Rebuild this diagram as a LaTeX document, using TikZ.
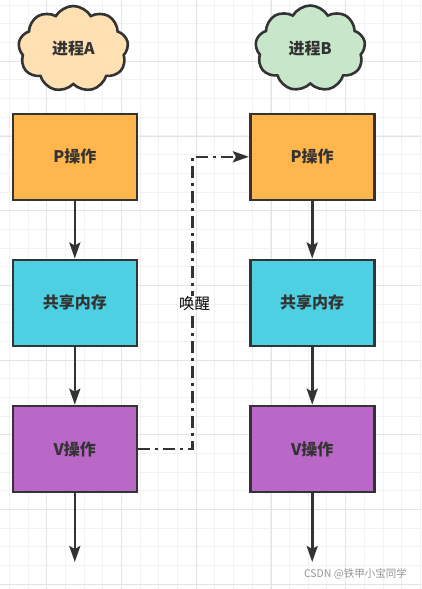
\documentclass[tikz,border=0pt]{standalone}
\usepackage{fontspec}
\setmainfont{Noto Sans CJK SC}
\usetikzlibrary{shapes.symbols,arrows.meta}
\definecolor{ink}{HTML}{333333}
\definecolor{gridminor}{HTML}{F2F2F2}
\definecolor{gridmajor}{HTML}{E4E4E4}
\definecolor{pfill}{HTML}{FFB74D}
\definecolor{mfill}{HTML}{4DD0E1}
\definecolor{vfill}{HTML}{BA68C8}
\definecolor{cloudA}{HTML}{FFE0B2}
\definecolor{cloudB}{HTML}{C8E6C9}
\tikzset{
  stepbox/.style={draw=ink, line width=2.6pt, minimum width=124pt, minimum height=86pt,
    font=\fontsize{16}{19}\selectfont\bfseries, text=ink, inner sep=0pt},
  puff/.style={cloud, cloud puffs=9, cloud puff arc=120, aspect=1.25, draw=ink, line width=2.6pt,
    minimum width=110pt, minimum height=86pt, inner sep=0pt,
    font=\fontsize{16}{19}\selectfont\bfseries, text=ink},
  flow/.style={draw=ink, line width=2.6pt, -{Stealth[length=16pt,width=11pt,inset=3pt]}},
  wake/.style={draw=ink, line width=2.6pt, dash pattern=on 12pt off 5pt on 3pt off 5pt,
    -{Stealth[length=16pt,width=11pt,inset=3pt]}}
}
\begin{document}
\begin{tikzpicture}[x=1pt,y=-1pt]
\useasboundingbox (0,0) rectangle (421,589);
\fill[white] (0,0) rectangle (421,589);
% grid
\foreach \k in {0,...,22} { \draw[gridminor, line width=1pt] ({9.6+18.67*\k},0) -- ({9.6+18.67*\k},589); }
\foreach \k in {0,...,31} { \draw[gridminor, line width=1pt] (0,{5.3+18.67*\k}) -- (421,{5.3+18.67*\k}); }
\foreach \k in {0,...,4} { \draw[gridmajor, line width=1pt] ({46.9+74.7*\k},0) -- ({46.9+74.7*\k},589); }
\foreach \k in {0,...,7} { \draw[gridmajor, line width=1pt] (0,{61.3+74.7*\k}) -- (421,{61.3+74.7*\k}); }
% clouds
\node[puff, fill=cloudA] (ca) at (73.3,49) {进程A};
\node[puff, fill=cloudB] (cb) at (310.3,48.5) {进程B};
% boxes process A
\node[stepbox, fill=pfill] (p1) at (74.8,156.8) {P操作};
\node[stepbox, fill=mfill] (m1) at (74.8,302.8) {共享内存};
\node[stepbox, fill=vfill] (v1) at (74.8,449) {V操作};
% boxes process B
\node[stepbox, fill=pfill] (p2) at (312.2,156.8) {P操作};
\node[stepbox, fill=mfill] (m2) at (312.2,302.8) {共享内存};
\node[stepbox, fill=vfill] (v2) at (312.2,449) {V操作};
% free ends
\coordinate (ea) at (74.8,562);
\coordinate (eb) at (312.2,562);
\coordinate (turn) at (192.5,156.8);
% flows
\draw[flow] (p1) -- (m1);
\draw[flow] (m1) -- (v1);
\draw[flow] (v1) -- (ea);
\draw[flow] (p2) -- (m2);
\draw[flow] (m2) -- (v2);
\draw[flow] (v2) -- (eb);
% wake-up connector
\draw[wake] (v1.east) -| (turn) -- (p2.west);
\node[fill=white, inner sep=1pt, font=\fontsize{15.5}{18}\selectfont, text=black] (lbl) at (194.5,304) {唤醒};
% watermark
\node[font=\fontsize{10.5}{12}\selectfont, text={rgb,255:red,150;green,150;blue,150}, anchor=east, inner sep=0pt] (wm) at (407,574) {CSDN @铁甲小宝同学};
\end{tikzpicture}
\end{document}
